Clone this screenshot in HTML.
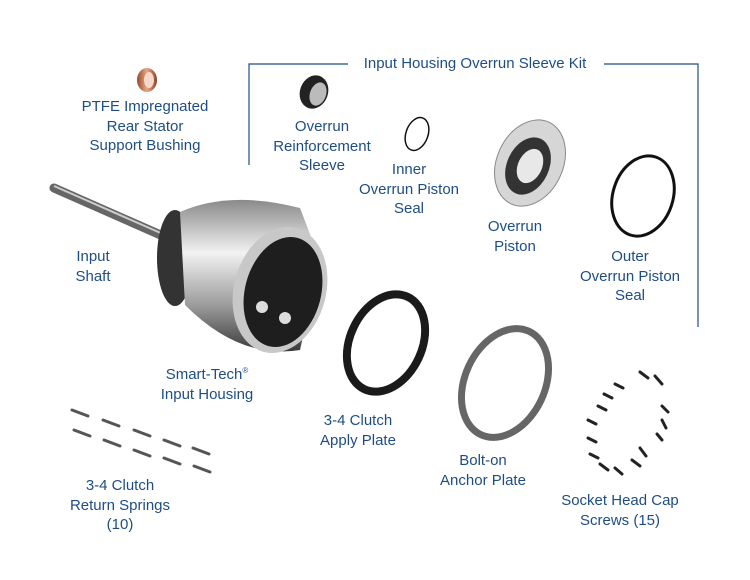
<!DOCTYPE html>
<html><head><meta charset="utf-8"><style>
body{margin:0;background:#fff;}
#c{position:relative;width:750px;height:580px;overflow:hidden;font-family:"Liberation Sans",sans-serif;color:#1e4d86;font-size:15px;}
.t{position:absolute;text-align:center;line-height:19.6px;white-space:nowrap;transform:translateX(-50%);}
svg{position:absolute;left:0;top:0;}
</style></head><body><div id="c">
<svg width="750" height="580" viewBox="0 0 750 580">
<defs>
<linearGradient id="met" x1="0" y1="0" x2="0" y2="1"><stop offset="0" stop-color="#8a8a8a"/><stop offset=".35" stop-color="#f2f2f2"/><stop offset=".7" stop-color="#9a9a9a"/><stop offset="1" stop-color="#3a3a3a"/></linearGradient>
<linearGradient id="cu" x1="0" y1="0" x2="1" y2="0"><stop offset="0" stop-color="#9a4a2a"/><stop offset=".5" stop-color="#e8a888"/><stop offset="1" stop-color="#8a4020"/></linearGradient>
</defs>
<path d="M249,165 V64 H348 M604,64 H698 V327" fill="none" stroke="#1e4d86" stroke-width="1.2"/>
<ellipse cx="147" cy="80" rx="10" ry="12" fill="url(#cu)"/>
<ellipse cx="149" cy="80" rx="5" ry="8" fill="#f5d8c8"/>
<ellipse cx="314" cy="92" rx="14" ry="17" fill="#222" transform="rotate(20 314 92)"/>
<ellipse cx="318" cy="94" rx="8" ry="12" fill="#bbb" transform="rotate(20 318 94)"/>
<ellipse cx="417" cy="134" rx="11" ry="17" fill="none" stroke="#111" stroke-width="1.5" transform="rotate(20 417 134)"/>
<ellipse cx="530" cy="163" rx="33" ry="45" fill="#d6d6d6" stroke="#888" transform="rotate(25 530 163)"/>
<ellipse cx="528" cy="166" rx="21" ry="30" fill="#333" transform="rotate(25 528 166)"/>
<ellipse cx="530" cy="166" rx="12" ry="18" fill="#e8e8e8" transform="rotate(25 530 166)"/>
<ellipse cx="643" cy="196" rx="30" ry="41" fill="none" stroke="#111" stroke-width="3" transform="rotate(18 643 196)"/>
<line x1="54" y1="188" x2="172" y2="240" stroke="#666" stroke-width="9" stroke-linecap="round"/>
<line x1="54" y1="186" x2="172" y2="238" stroke="#ccc" stroke-width="2"/>
<ellipse cx="175" cy="258" rx="18" ry="48" fill="#333"/>
<path d="M180,212 Q230,190 300,208 L320,260 L300,350 Q240,360 185,305 Z" fill="url(#met)"/>
<ellipse cx="280" cy="290" rx="46" ry="64" fill="#c8c8c8" transform="rotate(15 280 290)"/>
<ellipse cx="283" cy="292" rx="38" ry="56" fill="#1e1e1e" transform="rotate(15 283 292)"/>
<circle cx="262" cy="307" r="6" fill="#ddd"/><circle cx="285" cy="318" r="6" fill="#ddd"/>
<ellipse cx="386" cy="343" rx="36" ry="51" fill="none" stroke="#1a1a1a" stroke-width="8" transform="rotate(25 386 343)"/>
<ellipse cx="505" cy="383" rx="40" ry="57" fill="none" stroke="#666" stroke-width="7" transform="rotate(25 505 383)"/>
<g stroke="#555" stroke-width="3" stroke-linecap="round">
<line x1="72" y1="410" x2="88" y2="416"/><line x1="103" y1="420" x2="119" y2="426"/><line x1="134" y1="430" x2="150" y2="436"/><line x1="164" y1="440" x2="180" y2="446"/><line x1="193" y1="448" x2="209" y2="454"/>
<line x1="74" y1="430" x2="90" y2="436"/><line x1="104" y1="440" x2="120" y2="446"/><line x1="134" y1="450" x2="150" y2="456"/><line x1="164" y1="458" x2="180" y2="464"/><line x1="194" y1="466" x2="210" y2="472"/>
</g>
<g stroke="#222" stroke-width="3" stroke-linecap="round">
<line x1="640" y1="372" x2="648" y2="378"/><line x1="655" y1="376" x2="662" y2="384"/><line x1="615" y1="384" x2="623" y2="388"/><line x1="604" y1="394" x2="612" y2="398"/><line x1="598" y1="406" x2="606" y2="410"/><line x1="662" y1="406" x2="668" y2="412"/><line x1="662" y1="420" x2="666" y2="428"/><line x1="588" y1="420" x2="596" y2="424"/><line x1="657" y1="434" x2="662" y2="440"/><line x1="588" y1="438" x2="596" y2="442"/><line x1="590" y1="454" x2="598" y2="458"/><line x1="632" y1="460" x2="640" y2="466"/><line x1="600" y1="464" x2="608" y2="470"/><line x1="615" y1="468" x2="622" y2="474"/><line x1="640" y1="448" x2="646" y2="456"/>
</g>
</svg>
<div class="t" style="left:475px;top:54px">Input Housing Overrun Sleeve Kit</div>
<div class="t" style="left:145px;top:97px">PTFE Impregnated<br>Rear Stator<br>Support Bushing</div>
<div class="t" style="left:322px;top:117px">Overrun<br>Reinforcement<br>Sleeve</div>
<div class="t" style="left:409px;top:160px">Inner<br>Overrun Piston<br>Seal</div>
<div class="t" style="left:515px;top:217px">Overrun<br>Piston</div>
<div class="t" style="left:630px;top:247px">Outer<br>Overrun Piston<br>Seal</div>
<div class="t" style="left:93px;top:247px">Input<br>Shaft</div>
<div class="t" style="left:207px;top:361px">Smart-Tech<sup style="font-size:8px">®</sup><br>Input Housing</div>
<div class="t" style="left:358px;top:411px">3-4 Clutch<br>Apply Plate</div>
<div class="t" style="left:483px;top:451px">Bolt-on<br>Anchor Plate</div>
<div class="t" style="left:120px;top:476px">3-4 Clutch<br>Return Springs<br>(10)</div>
<div class="t" style="left:620px;top:491px">Socket Head Cap<br>Screws (15)</div>
</div></body></html>
